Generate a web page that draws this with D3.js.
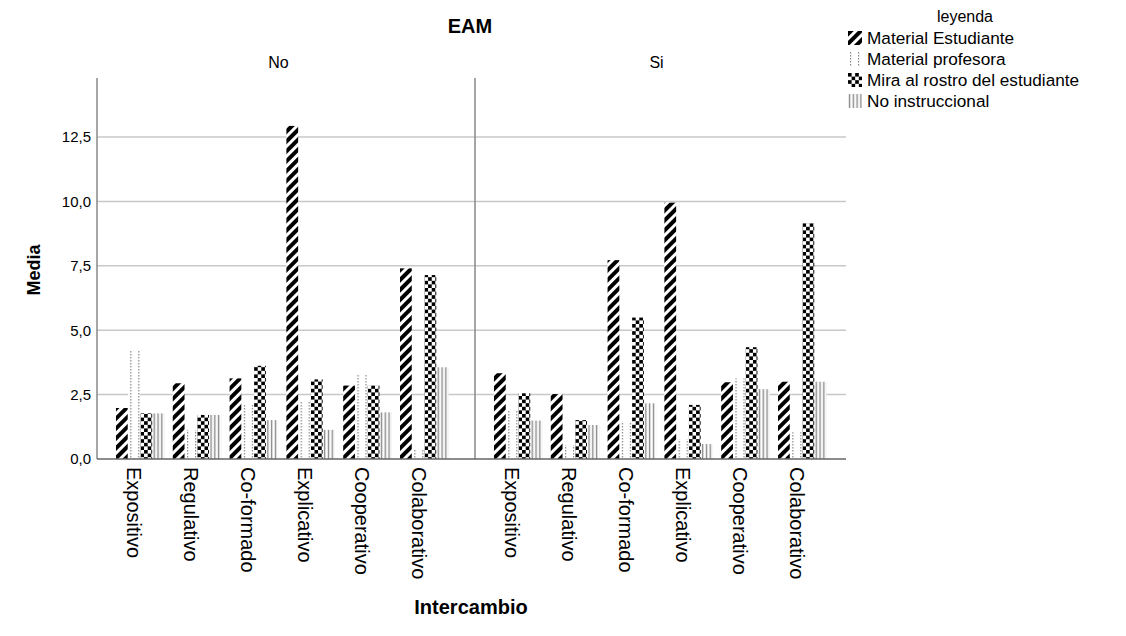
<!DOCTYPE html>
<html>
<head>
<meta charset="utf-8">
<style>
  body { margin: 0; background: #fff; }
  text { font-family: "Liberation Sans", Arial, sans-serif; fill: #000; }
</style>
</head>
<body>
<div id="chart"></div>
<script src="https://cdn.jsdelivr.net/npm/d3@7"></script>
<script>
  const categories = ["Expositivo", "Regulativo", "Co-formado", "Explicativo", "Cooperativo", "Colaborativo"];
  const panels = ["No", "Si"];
  const series = ["Material Estudiante", "Material profesora", "Mira al rostro del estudiante", "No instruccional"];
  const yTicks = [0, 2.5, 5, 7.5, 10, 12.5];

  // medias por panel (No / Si), una lista por serie
  const estudianteNo = [1.98, 2.94, 3.13, 12.93, 2.85, 7.40];
  const profesoraNo = [4.20, 1.13, 2.10, 2.22, 3.26, 0.35];
  const miraNo = [1.77, 1.71, 3.62, 3.09, 2.85, 7.14];
  const noInstrNo = [1.77, 1.71, 1.51, 1.13, 1.81, 3.56];

  const estudianteSi = [3.33, 2.52, 7.72, 9.95, 2.98, 3.00];
  const profesoraSi = [1.90, 0.54, 1.45, 0.76, 3.13, 1.04];
  const miraSi = [2.55, 1.51, 5.49, 2.10, 4.34, 9.15];
  const noInstrSi = [1.49, 1.32, 2.16, 0.58, 2.71, 3.00];

  const valuesByPanel = {
    No: [estudianteNo, profesoraNo, miraNo, noInstrNo],
    Si: [estudianteSi, profesoraSi, miraSi, noInstrSi]
  };

  const width = 1126, height = 636;
  const plotTop = 78, plotBottom = 459;
  const panelWidth = 371;
  const panelStart = { No: 97, Si: 475 };

  const svg = d3.select("#chart").append("svg")
    .attr("width", width)
    .attr("height", height);

  // patrones de relleno
  const defs = svg.append("defs");

  const stripes = defs.append("pattern")
    .attr("id", "p0").attr("patternUnits", "userSpaceOnUse")
    .attr("width", 7).attr("height", 7)
    .attr("patternTransform", "rotate(45)");
  stripes.append("rect").attr("width", 7).attr("height", 7).attr("fill", "#fff");
  stripes.append("rect").attr("width", 4).attr("height", 7).attr("fill", "#000");

  const dots = defs.append("pattern")
    .attr("id", "p1").attr("patternUnits", "userSpaceOnUse")
    .attr("width", 8).attr("height", 3);
  dots.append("rect").attr("width", 8).attr("height", 3).attr("fill", "#fff");
  dots.append("rect").attr("x", 2).attr("width", 1.2).attr("height", 1.5).attr("fill", "#888");

  const cell = 3.6;
  const checker = defs.append("pattern")
    .attr("id", "p2").attr("patternUnits", "userSpaceOnUse")
    .attr("width", cell * 2).attr("height", cell * 2);
  checker.append("rect").attr("width", cell * 2).attr("height", cell * 2).attr("fill", "#fff");
  checker.append("rect").attr("width", cell).attr("height", cell).attr("fill", "#000");
  checker.append("rect").attr("x", cell).attr("y", cell).attr("width", cell).attr("height", cell).attr("fill", "#000");

  const vlines = defs.append("pattern")
    .attr("id", "p3").attr("patternUnits", "userSpaceOnUse")
    .attr("width", 3.8).attr("height", 4);
  vlines.append("rect").attr("width", 3.8).attr("height", 4).attr("fill", "#fff");
  vlines.append("rect").attr("x", 0.8).attr("width", 1.4).attr("height", 4).attr("fill", "#8a8a8a");

  const y = d3.scaleLinear().domain([0, 14.79]).range([plotBottom, plotTop]);

  const x0 = d3.scaleBand().domain(categories)
    .range([0, panelWidth])
    .paddingInner(0.137)
    .paddingOuter(0.334);

  const x1 = d3.scaleBand().domain(series).range([0, x0.bandwidth()]);

  const fmt = d => d3.format(".1f")(d).replace(".", ",");

  // titulo
  svg.append("text")
    .attr("x", 470).attr("y", 33)
    .attr("text-anchor", "middle")
    .style("font-size", "20px").style("font-weight", "bold")
    .text("EAM");

  // rejilla
  panels.forEach(p => {
    const x = panelStart[p];
    svg.append("g").selectAll("line")
      .data(yTicks.filter(t => t > 0))
      .enter().append("line")
      .attr("x1", x).attr("x2", p === "No" ? 475 : x + panelWidth)
      .attr("y1", d => y(d)).attr("y2", d => y(d))
      .attr("stroke", "#c8c8c8").attr("stroke-width", 1.5);
  });

  // barras
  panels.forEach(p => {
    const g = svg.append("g").attr("transform", `translate(${panelStart[p]},0)`);
    const vals = valuesByPanel[p];

    const groups = g.selectAll("g.grp")
      .data(categories)
      .enter().append("g")
      .attr("class", "grp");

    groups.selectAll("g.bar")
      .data((c, ci) => series.map((s, si) => ({ s, si, v: vals[si][ci], c })))
      .enter().append("g")
      .attr("class", "bar")
      .attr("transform", d => `translate(${x0(d.c) + x1(d.s)},0)`)
      .append("rect")
      .attr("x", 0)
      .attr("y", d => y(d.v))
      .attr("width", x1.bandwidth() - 0.5)
      .attr("height", d => plotBottom - y(d.v))
      .attr("fill", d => `url(#p${d.si})`);

    // etiquetas de categorias
    g.selectAll("text.cat")
      .data(categories)
      .enter().append("text")
      .attr("class", "cat")
      .attr("transform", d => `translate(${x0(d) + x0.bandwidth() / 2 - 6},467) rotate(90)`)
      .attr("dy", "0.35em")
      .style("font-size", "20px")
      .text(d => d);

    // etiqueta del panel
    svg.append("text")
      .attr("x", panelStart[p] + panelWidth / 2 - 4)
      .attr("y", 68)
      .attr("text-anchor", "middle")
      .style("font-size", "16px")
      .text(p);

    // eje vertical del panel
    svg.append("line")
      .attr("x1", panelStart[p]).attr("x2", panelStart[p])
      .attr("y1", plotTop).attr("y2", plotBottom)
      .attr("stroke", "#888").attr("stroke-width", 1.5);
  });

  // eje x
  svg.append("line")
    .attr("x1", 97).attr("x2", 846)
    .attr("y1", plotBottom).attr("y2", plotBottom)
    .attr("stroke", "#666").attr("stroke-width", 1.5);

  // eje y
  const yAxis = d3.axisLeft(y).tickValues(yTicks).tickFormat(fmt).tickSize(0).tickPadding(6);
  const ya = svg.append("g").attr("transform", "translate(97,0)").call(yAxis);
  ya.select(".domain").remove();
  ya.selectAll("text").style("font-size", "15px").style("font-family", "'Liberation Sans', Arial, sans-serif");

  // titulos de ejes
  svg.append("text")
    .attr("transform", "translate(40,270) rotate(-90)")
    .attr("text-anchor", "middle")
    .style("font-size", "18px").style("font-weight", "bold")
    .text("Media");

  svg.append("text")
    .attr("x", 471).attr("y", 614)
    .attr("text-anchor", "middle")
    .style("font-size", "20px").style("font-weight", "bold")
    .text("Intercambio");

  // leyenda
  const legend = svg.append("g");
  legend.append("text")
    .attr("x", 965).attr("y", 22)
    .attr("text-anchor", "middle")
    .style("font-size", "16px")
    .text("leyenda");

  const items = legend.selectAll("g.item")
    .data(series)
    .enter().append("g")
    .attr("class", "item")
    .attr("transform", (d, i) => `translate(848,${31 + i * 21})`);

  items.append("rect")
    .attr("width", 14).attr("height", 14)
    .attr("fill", (d, i) => `url(#p${i})`);

  items.append("text")
    .attr("x", 19).attr("y", 7)
    .attr("dy", "0.35em")
    .style("font-size", "17.2px")
    .text(d => d);
</script>
</body>
</html>
